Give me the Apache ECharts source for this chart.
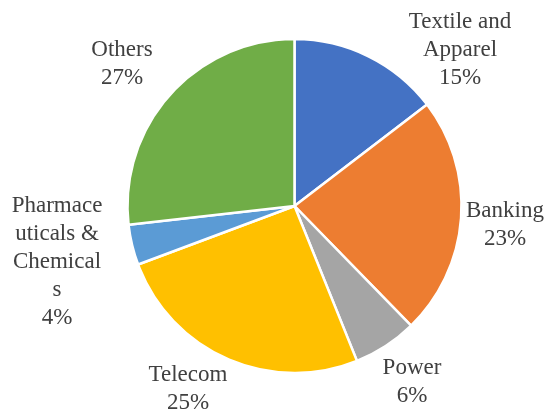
<!DOCTYPE html>
<html>
<head>
<meta charset="utf-8">
<script src="https://cdn.jsdelivr.net/npm/echarts@6/dist/echarts.min.js"></script>
<style>html,body{margin:0;padding:0;background:#fff}#c{width:549px;height:413px}</style>
</head>
<body>
<div id="c"></div>
<script>
const categories = ['Textile and\nApparel', 'Banking', 'Power', 'Telecom', 'Pharmace\nuticals &\nChemical\ns', 'Others'];
// shares (labels show them rounded)
const shares = [14.6, 23.1, 6.2, 25.4, 3.9, 26.8];
const colors = ['#4472C4', '#ED7D31', '#A5A5A5', '#FFC000', '#5B9BD5', '#70AD47'];
// label block centres as offsets from the pie centre (px)
const labelOffsets = [[165.5, -156], [210.5, 19], [117.5, 176], [-106.5, 183], [-237.5, 56], [-172.5, -142]];

const CX = 294.5, CY = 206, R = 167;
const chart = echarts.init(document.getElementById('c'), null, {renderer: 'canvas'});
chart.setOption({
  animation: false,
  backgroundColor: '#ffffff',
  series: [{
    type: 'pie',
    center: [CX, CY],
    radius: R,
    startAngle: 90,
    clockwise: true,
    data: categories.map((n, i) => ({name: n, value: shares[i], itemStyle: {color: colors[i]}})),
    itemStyle: {borderColor: '#ffffff', borderWidth: 2.5},
    label: {
      show: true,
      position: 'outside',
      formatter: p => p.name + '\n' + Math.round(p.percent) + '%',
      fontFamily: 'Liberation Serif',
      fontSize: 23,
      lineHeight: 28,
      color: '#404040',
      overflow: 'none',
      edgeDistance: 0
    },
    labelLine: {show: false},
    labelLayout: p => ({
      x: CX + labelOffsets[p.dataIndex][0],
      y: CY + labelOffsets[p.dataIndex][1],
      align: 'center',
      verticalAlign: 'middle',
      width: 200
    }),
    emphasis: {disabled: true}
  }]
});
</script>
</body>
</html>
